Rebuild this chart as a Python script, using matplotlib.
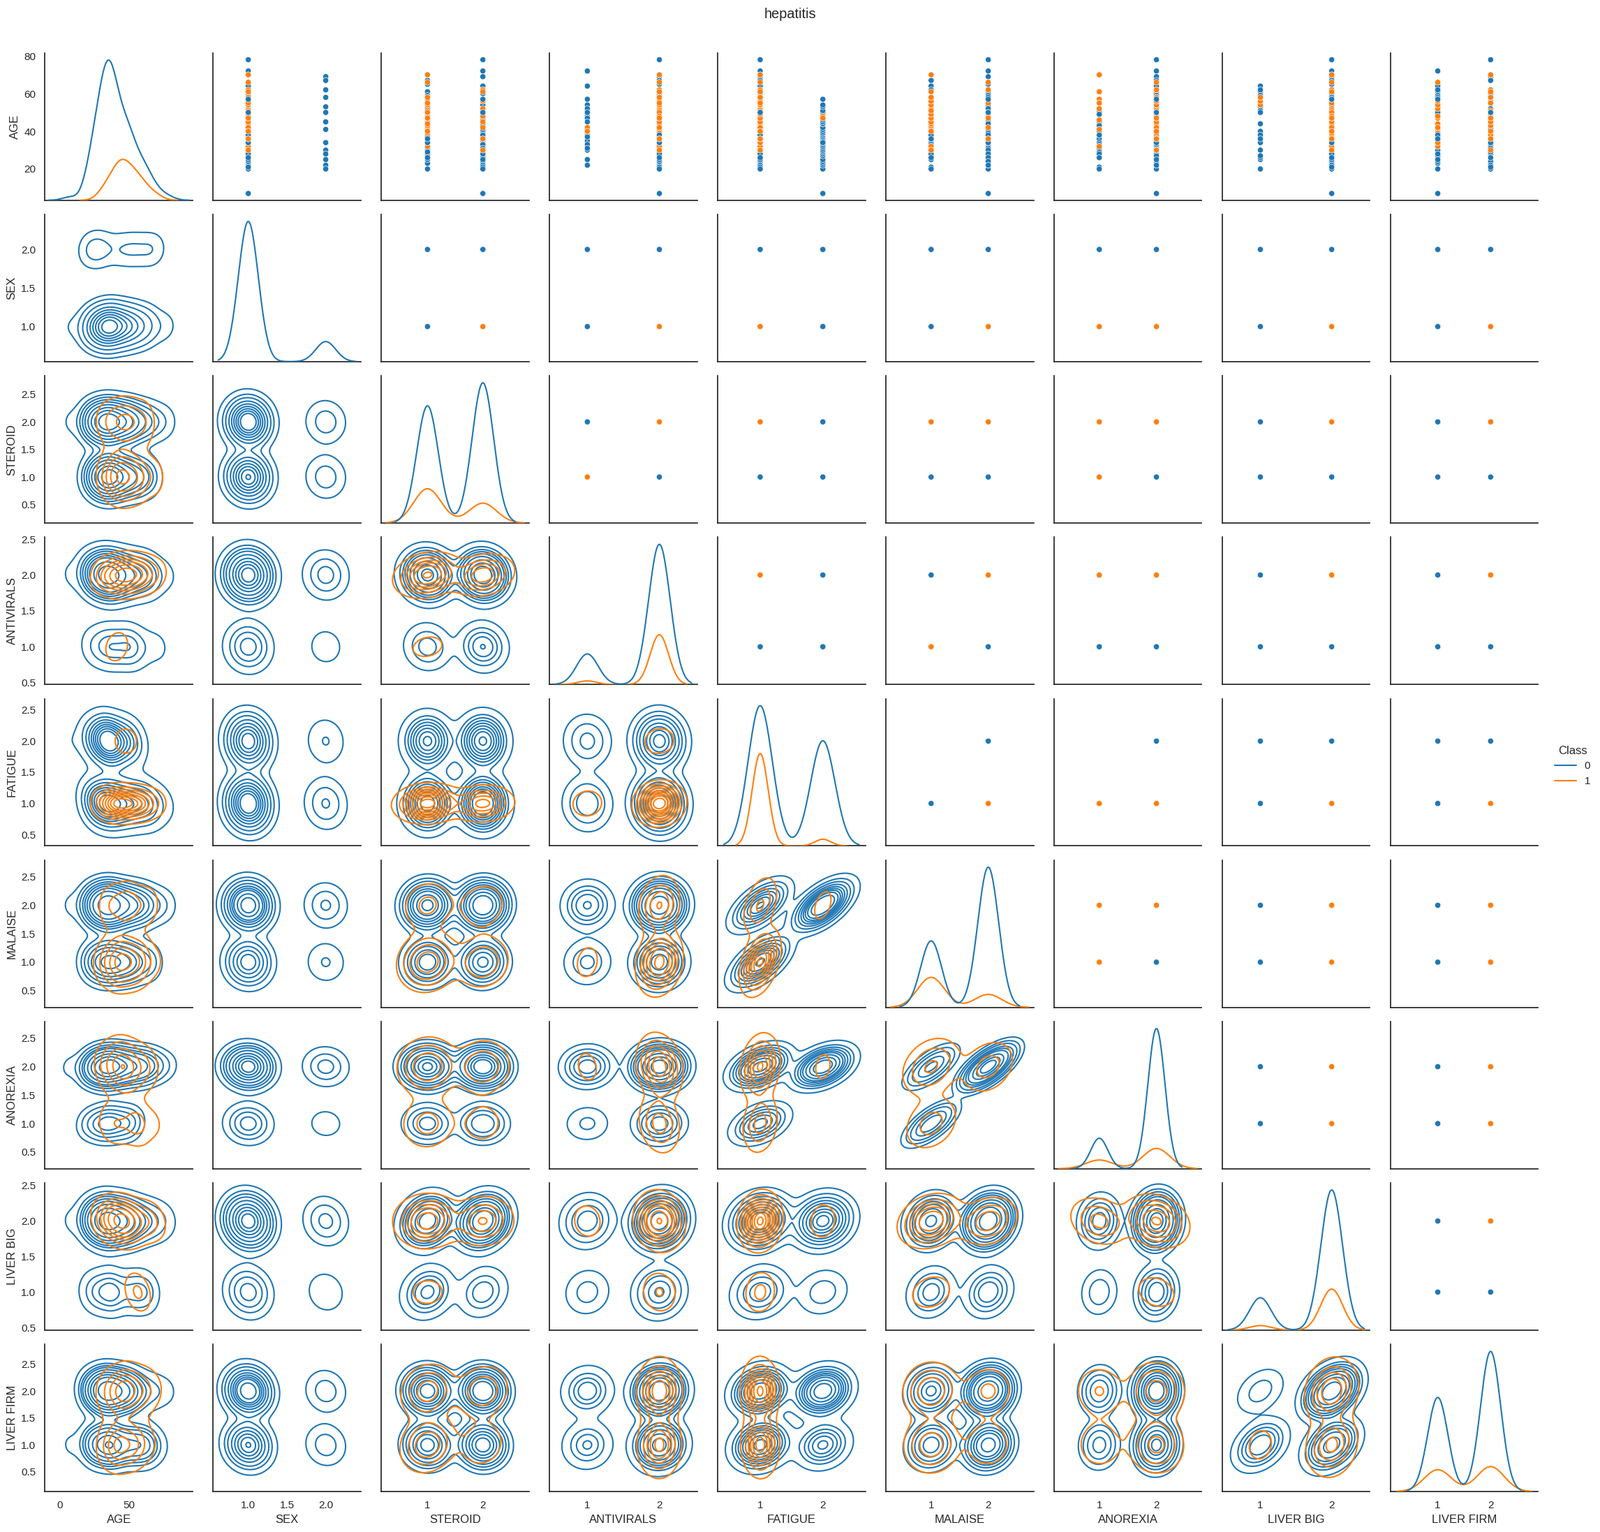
import warnings
import pandas as pd
import matplotlib
matplotlib.use('Agg')
import matplotlib.pyplot as plt
import seaborn as sns

warnings.filterwarnings('ignore')

# hepatitis subset, one entry per patient (class 0 first, then class 1)
age = [
    7, 20, 22, 23, 24, 25, 27, 28, 29, 29, 30, 30, 31, 32, 32, 32, 33, 34, 34, 35, 35, 35, 36,
    36, 37, 37, 37, 38, 38, 39, 39, 39, 40, 41, 42, 44, 44, 45, 46, 47, 48, 49, 50, 51, 53, 54,
    78, 72, 69, 65, 62, 61, 60, 59, 58, 56, 52, 48, 46, 44, 41, 39, 38, 36, 35, 34, 33, 31, 30, 28, 26, 24, 22,
    67, 64, 62, 58, 55, 51, 47, 45, 42, 40, 38, 33, 30, 27, 25,
    52, 51, 50, 49, 45, 43, 41, 40, 37, 36, 34, 33, 32, 31, 29, 28, 26, 21, 20,
    70, 57, 52, 46, 41, 38, 32,
    30, 39, 42, 43, 44, 45, 47, 49, 51, 54, 56, 58,
    66, 62, 50, 48, 47, 42, 34,
    55, 38, 40, 34, 50, 57, 61, 36, 36,
]
sex = [
    1, 1, 1, 1, 1, 2, 1, 1, 1, 1, 2, 1, 1, 1, 1, 1, 1, 2, 1, 1, 1, 1, 1,
    1, 1, 1, 1, 1, 1, 1, 1, 1, 1, 1, 1, 1, 1, 2, 1, 1, 1, 1, 1, 1, 2, 1,
    1, 1, 2, 1, 1, 1, 1, 1, 2, 1, 1, 1, 1, 1, 1, 1, 1, 1, 1, 1, 1, 1, 1, 2, 1, 1, 2,
    2, 1, 2, 1, 1, 1, 1, 1, 1, 1, 1, 1, 1, 1, 1,
    1, 1, 2, 1, 1, 1, 2, 1, 1, 1, 1, 1, 1, 1, 1, 1, 1, 1, 2,
    1, 1, 1, 1, 1, 1, 1,
    1, 1, 1, 1, 1, 1, 1, 1, 1, 1, 1, 1,
    1, 1, 1, 1, 1, 1, 1,
    1, 1, 1, 1, 1, 1, 1, 1, 1,
]
steroid = [
    2, 1, 2, 1, 2, 1, 2, 1, 2, 1, 2, 1, 2, 1, 2, 1, 2, 1, 2, 2, 1, 2, 1,
    2, 1, 2, 1, 2, 1, 2, 1, 2, 1, 2, 1, 2, 1, 2, 1, 2, 1, 2, 2, 2, 1, 2,
    2, 2, 2, 1, 2, 1, 2, 1, 1, 2, 1, 1, 2, 1, 2, 1, 2, 1, 2, 1, 2, 1, 2, 1, 2, 2, 2,
    1, 2, 2, 1, 1, 2, 1, 2, 1, 2, 1, 2, 2, 1, 2,
    1, 2, 1, 2, 1, 2, 2, 1, 1, 2, 1, 2, 1, 2, 1, 2, 1, 2, 2,
    1, 1, 2, 1, 1, 2, 1,
    2, 1, 1, 1, 1, 2, 1, 2, 1, 1, 2, 1,
    1, 2, 1, 2, 1, 2, 1,
    1, 2, 1, 1, 2, 2, 2, 1, 2,
]
antivirals = [
    2, 2, 2, 2, 2, 1, 2, 2, 2, 2, 2, 1, 2, 2, 2, 2, 2, 2, 2, 1, 2, 2, 2,
    2, 2, 2, 2, 1, 2, 2, 2, 2, 1, 2, 2, 2, 2, 2, 2, 2, 1, 2, 2, 1, 2, 1,
    2, 1, 2, 2, 2, 2, 2, 2, 2, 2, 1, 2, 2, 2, 2, 2, 2, 2, 2, 2, 2, 2, 2, 2, 2, 2, 1,
    2, 1, 2, 2, 2, 2, 1, 2, 2, 2, 2, 1, 2, 2, 2,
    2, 2, 2, 2, 1, 2, 1, 2, 1, 2, 2, 2, 2, 1, 2, 2, 2, 2, 2,
    2, 2, 2, 2, 2, 2, 2,
    2, 2, 1, 2, 2, 2, 2, 2, 2, 2, 2, 2,
    2, 2, 2, 2, 2, 2, 2,
    2, 2, 1, 2, 1, 1, 2, 2, 2,
]
fatigue = [
    2, 2, 2, 2, 2, 2, 2, 2, 2, 2, 2, 2, 2, 2, 2, 2, 2, 2, 2, 2, 2, 2, 2,
    2, 2, 2, 2, 2, 2, 2, 2, 2, 2, 2, 2, 2, 2, 2, 2, 2, 2, 2, 2, 2, 2, 2,
    1, 1, 1, 1, 1, 1, 1, 1, 1, 1, 1, 1, 1, 1, 1, 1, 1, 1, 1, 1, 1, 1, 1, 1, 1, 1, 1,
    1, 1, 1, 1, 1, 1, 1, 1, 1, 1, 1, 1, 1, 1, 1,
    1, 1, 1, 1, 1, 1, 1, 1, 1, 1, 1, 1, 1, 1, 1, 1, 1, 1, 1,
    1, 1, 1, 1, 1, 1, 1,
    1, 1, 1, 1, 1, 1, 1, 1, 1, 1, 1, 1,
    1, 1, 1, 2, 2, 1, 1,
    1, 1, 1, 2, 1, 2, 1, 1, 1,
]
malaise = [
    2, 2, 2, 2, 2, 2, 2, 2, 2, 2, 2, 2, 2, 2, 2, 2, 2, 2, 2, 2, 2, 2, 2,
    2, 2, 2, 2, 2, 2, 2, 2, 2, 2, 2, 2, 2, 2, 2, 2, 2, 2, 2, 2, 2, 2, 2,
    2, 2, 2, 2, 2, 2, 2, 2, 2, 2, 2, 2, 2, 2, 2, 2, 2, 2, 2, 2, 2, 2, 2, 2, 2, 2, 2,
    1, 1, 1, 1, 1, 1, 1, 1, 1, 1, 1, 1, 1, 1, 1,
    1, 1, 1, 1, 1, 1, 1, 1, 1, 1, 1, 1, 1, 1, 1, 1, 1, 1, 1,
    1, 1, 1, 1, 1, 1, 1,
    1, 1, 1, 1, 1, 1, 1, 1, 1, 1, 1, 1,
    2, 2, 2, 2, 2, 2, 2,
    2, 1, 1, 2, 2, 2, 1, 1, 2,
]
anorexia = [
    2, 2, 2, 2, 2, 2, 2, 2, 2, 2, 2, 2, 2, 2, 2, 2, 2, 2, 2, 2, 2, 2, 2,
    2, 2, 2, 2, 2, 2, 2, 2, 2, 2, 2, 2, 2, 2, 2, 2, 2, 2, 2, 2, 2, 2, 2,
    2, 2, 2, 2, 2, 2, 2, 2, 2, 2, 2, 2, 2, 2, 2, 2, 2, 2, 2, 2, 2, 2, 2, 2, 2, 2, 2,
    2, 2, 2, 2, 2, 2, 2, 2, 2, 2, 2, 2, 2, 2, 2,
    1, 1, 1, 1, 1, 1, 1, 1, 1, 1, 1, 1, 1, 1, 1, 1, 1, 1, 1,
    1, 1, 1, 1, 1, 1, 1,
    2, 2, 2, 2, 2, 2, 2, 2, 2, 2, 2, 2,
    2, 2, 2, 2, 2, 2, 2,
    1, 1, 2, 2, 2, 2, 1, 2, 2,
]
liver_big = [
    2, 2, 2, 2, 2, 1, 2, 2, 2, 2, 2, 1, 2, 2, 2, 2, 2, 2, 2, 1, 2, 2, 2,
    2, 1, 2, 2, 2, 2, 2, 2, 2, 2, 2, 2, 2, 1, 2, 2, 2, 2, 2, 2, 2, 1, 2,
    2, 2, 2, 2, 2, 1, 2, 1, 2, 2, 2, 2, 2, 2, 2, 1, 2, 2, 2, 2, 2, 2, 2, 2, 1, 2, 2,
    2, 1, 1, 2, 1, 2, 2, 2, 2, 2, 2, 2, 2, 1, 2,
    2, 1, 2, 2, 2, 2, 2, 1, 2, 2, 1, 2, 2, 2, 2, 2, 2, 2, 1,
    2, 2, 2, 2, 2, 2, 2,
    2, 2, 2, 2, 2, 2, 2, 2, 2, 1, 1, 1,
    2, 2, 2, 2, 2, 2, 2,
    2, 1, 2, 2, 1, 2, 2, 1, 2,
]
liver_firm = [
    1, 2, 2, 1, 2, 1, 2, 2, 2, 2, 2, 1, 2, 1, 2, 2, 2, 1, 2, 1, 2, 1, 2,
    2, 2, 1, 2, 2, 2, 2, 2, 2, 2, 1, 2, 1, 2, 2, 2, 2, 2, 2, 1, 2, 1, 1,
    2, 1, 2, 1, 1, 1, 2, 1, 1, 2, 2, 1, 2, 2, 1, 1, 2, 1, 2, 2, 1, 2, 2, 2, 1, 1, 2,
    2, 1, 1, 2, 2, 1, 2, 2, 1, 2, 2, 1, 2, 1, 1,
    2, 1, 1, 2, 2, 1, 2, 1, 1, 2, 2, 2, 1, 2, 2, 1, 2, 2, 1,
    2, 1, 1, 2, 1, 2, 1,
    2, 1, 1, 2, 1, 2, 1, 2, 2, 1, 1, 2,
    1, 2, 2, 1, 2, 1, 1,
    2, 1, 2, 2, 2, 1, 2, 1, 2,
]
cls = [
    0, 0, 0, 0, 0, 0, 0, 0, 0, 0, 0, 0, 0, 0, 0, 0, 0, 0, 0, 0, 0, 0, 0,
    0, 0, 0, 0, 0, 0, 0, 0, 0, 0, 0, 0, 0, 0, 0, 0, 0, 0, 0, 0, 0, 0, 0,
    0, 0, 0, 0, 0, 0, 0, 0, 0, 0, 0, 0, 0, 0, 0, 0, 0, 0, 0, 0, 0, 0, 0, 0, 0, 0, 0,
    0, 0, 0, 0, 0, 0, 0, 0, 0, 0, 0, 0, 0, 0, 0,
    0, 0, 0, 0, 0, 0, 0, 0, 0, 0, 0, 0, 0, 0, 0, 0, 0, 0, 0,
    1, 1, 1, 1, 1, 1, 1,
    1, 1, 1, 1, 1, 1, 1, 1, 1, 1, 1, 1,
    1, 1, 1, 1, 1, 1, 1,
    1, 0, 1, 0, 0, 0, 1, 0, 1,
]

sns.set_theme(style='white')
plt.rcParams['font.family'] = ['Liberation Sans', 'DejaVu Sans']

df = pd.DataFrame({
    'AGE': age, 'SEX': sex, 'STEROID': steroid, 'ANTIVIRALS': antivirals,
    'FATIGUE': fatigue, 'MALAISE': malaise, 'ANOREXIA': anorexia,
    'LIVER BIG': liver_big, 'LIVER FIRM': liver_firm, 'Class': cls,
})

g = sns.PairGrid(df, hue='Class', palette=['#1f77b4', '#ff7f0e'], diag_sharey=False)
g.map_upper(sns.scatterplot)
g.map_lower(sns.kdeplot)
g.map_diag(sns.kdeplot)
g.add_legend()

# match the saved layout of the original figure
g.fig.set_size_inches(22.92, 21.94)
g.fig.subplots_adjust(left=0.0281, right=0.9613, bottom=0.0264, top=0.9654,
                      wspace=0.138, hspace=0.097)
g.fig.suptitle('hepatitis', x=0.494, y=0.995, va='top')

g.fig.savefig('out.png', dpi=100)
